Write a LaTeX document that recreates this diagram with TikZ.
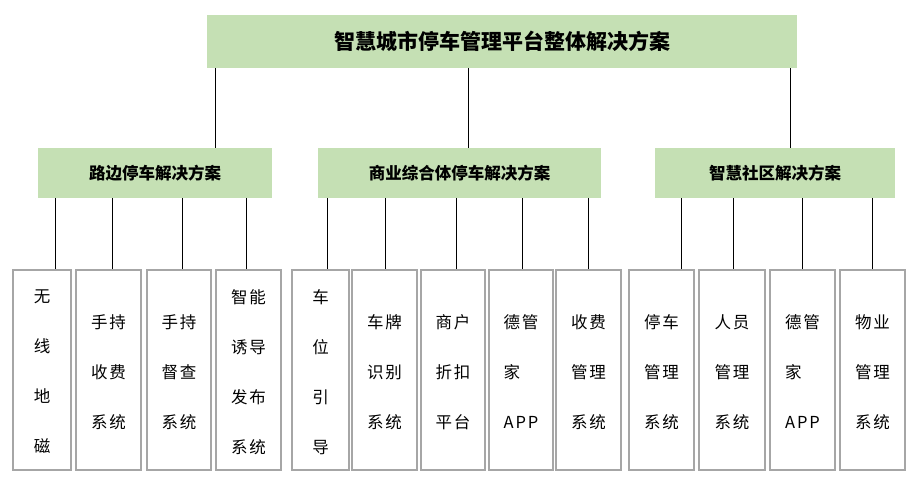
\documentclass[tikz,border=0pt]{standalone}
\usepackage{fontspec}
\newfontfamily\cjk{Noto Sans CJK SC}
\newfontfamily\cjkl[LetterSpace=12]{Noto Sans CJK SC}
\definecolor{gfill}{HTML}{C5E0B4}
\definecolor{bgray}{HTML}{A6A6A6}
\tikzset{
  topbox/.style={fill=gfill, draw=none, inner sep=0pt, font=\cjk\fontsize{21}{24}\selectfont\bfseries},
  midbox/.style={fill=gfill, draw=none, inner sep=0pt, font=\cjk\fontsize{16.5}{20}\selectfont\bfseries},
  leafbox/.style={draw=bgray, line width=1.6pt, fill=white, inner sep=0pt, minimum height=200pt},
  leaftext/.style={align=left, inner sep=0pt, font=\cjkl\fontsize{16.5}{50}\selectfont},
  conn/.style={line width=0.9pt, black}
}
\begin{document}
\begin{tikzpicture}[x=1pt,y=-1pt]
\useasboundingbox (0,0) rectangle (918,479);
\node[topbox, minimum width=590pt, minimum height=53pt] (top) at (502,41.5) {智慧城市停车管理平台整体解决方案};
\node[midbox, minimum width=234pt, minimum height=50pt] (m1) at (155,173) {路边停车解决方案};
\node[midbox, minimum width=283pt, minimum height=50pt] (m2) at (459.5,173) {商业综合体停车解决方案};
\node[midbox, minimum width=240pt, minimum height=50pt] (m3) at (775,173) {智慧社区解决方案};
\coordinate (t1) at (215,0); \coordinate (t2) at (468,0); \coordinate (t3) at (790,0);
\draw[conn] (top.south -| t1) -- (m1.north -| t1);
\draw[conn] (top.south -| t2) -- (m2.north -| t2);
\draw[conn] (top.south -| t3) -- (m3.north -| t3);
% leaves: name, left, right, line x, parent, text
\foreach \n/\l/\r/\lx/\p/\t in {
 1/13/71/55/m1/{无\\线\\地\\磁},
 2/76/141/112/m1/{手持\\收费\\系统},
 3/147/211/182/m1/{手持\\督查\\系统},
 4/216/281/246/m1/{智能\\诱导\\发布\\系统},
 5/292/349/327/m2/{车\\位\\引\\导},
 6/352/417/385/m2/{车牌\\识别\\系统},
 7/421/485/456/m2/{商户\\折扣\\平台},
 8/489/553/522/m2/{德管\\家\\APP},
 9/556/621/588/m2/{收费\\管理\\系统},
 10/629/694/681/m3/{停车\\管理\\系统},
 11/699/765/733/m3/{人员\\管理\\系统},
 12/770/835/802/m3/{德管\\家\\APP},
 13/840/905/872/m3/{物业\\管理\\系统}} {
  \node[leafbox, minimum width={\r-\l}] (l\n) at ({(\l+\r)/2},370) {};
  \node[leaftext] (lt\n) at ({(\l+\r)/2},372) {\t};
  \coordinate (c\n) at (\lx,0);
  \draw[conn] (\p.south -| c\n) -- (l\n.north -| c\n);
}
\end{tikzpicture}
\end{document}
